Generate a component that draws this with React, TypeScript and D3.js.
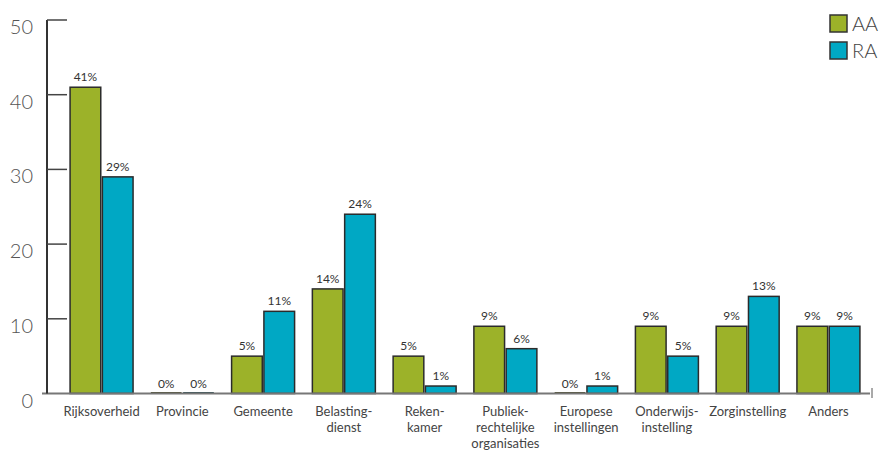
import React from "react";
import * as d3 from "d3";

const categories: string[][] = [
  ["Rijksoverheid"],
  ["Provincie"],
  ["Gemeente"],
  ["Belasting-", "dienst"],
  ["Reken-", "kamer"],
  ["Publiek-", "rechtelijke", "organisaties"],
  ["Europese", "instellingen"],
  ["Onderwijs-", "instelling"],
  ["Zorginstelling"],
  ["Anders"],
];
const seriesNames = ["AA", "RA"];
const aaValues = [41, 0, 5, 14, 5, 9, 0, 9, 9, 9];
const raValues = [29, 0, 11, 24, 1, 6, 1, 5, 13, 9];
const yTicks = [0, 10, 20, 30, 40, 50];
const colors = ["#9cb229", "#00a8c4"];

const W = 882;
const H = 450;
const FONT = "Lato, 'Open Sans', sans-serif";

export default function App() {
  const x0 = d3
    .scaleBand<number>()
    .domain(d3.range(categories.length))
    .range([62, 868])
    .paddingInner(0.22)
    .paddingOuter(0.1);
  const x1 = d3
    .scaleBand<number>()
    .domain([0, 1])
    .range([0, x0.bandwidth()])
    .paddingInner(0.05);
  const y = d3.scaleLinear().domain([0, 50]).range([393.5, 20]);
  const series = [aaValues, raValues];

  return (
    <svg
      width={W}
      height={H}
      style={{ position: "absolute", left: 0, top: 0, background: "#fff" }}
      fontFamily={FONT}
    >
      {/* bars */}
      {categories.map((_, i) =>
        series.map((vals, s) => {
          const v = vals[i];
          const bx = (x0(i) as number) + (x1(s) as number);
          const bw = x1.bandwidth();
          const top = y(v);
          return (
            <g key={`${i}-${s}`}>
              {v > 0 ? (
                <rect
                  x={bx}
                  y={top}
                  width={bw}
                  height={y(0) - top}
                  fill={colors[s]}
                  stroke="#2b2b2b"
                  strokeWidth={1.5}
                />
              ) : (
                <line
                  x1={bx}
                  x2={bx + bw}
                  y1={y(0) - 0.5}
                  y2={y(0) - 0.5}
                  stroke={s === 0 ? "#4a4a2a" : "#2a4a50"}
                  strokeWidth={2}
                />
              )}
              <text
                x={bx + bw / 2}
                y={top - 6}
                textAnchor="middle"
                fontSize={12}
                fill="#333"
              >
                {`${v}%`}
              </text>
            </g>
          );
        })
      )}

      {/* baseline */}
      <line x1={42} x2={870} y1={y(0)} y2={y(0)} stroke="#777" strokeWidth={2} />
      <line x1={872} x2={872} y1={388} y2={398} stroke="#555" strokeWidth={1} />

      {/* y axis */}
      <line x1={47} x2={47} y1={y(50)} y2={y(0)} stroke="#333" strokeWidth={2} />
      {yTicks.map((t) => (
        <g key={t}>
          {t > 0 && (
            <line x1={47} x2={67} y1={y(t)} y2={y(t)} stroke="#444" strokeWidth={1.5} />
          )}
          <text
            x={33}
            y={y(t) + 14}
            textAnchor="end"
            fontSize={20}
            fontWeight={300}
            fill="#555"
          >
            {t}
          </text>
        </g>
      ))}

      {/* category labels */}
      {categories.map((lines, i) => (
        <text
          key={i}
          x={(x0(i) as number) + x0.bandwidth() / 2}
          y={416}
          textAnchor="middle"
          fontSize={13}
          fill="#444"
        >
          {lines.map((l, k) => (
            <tspan key={k} x={(x0(i) as number) + x0.bandwidth() / 2} dy={k === 0 ? 0 : 16}>
              {l}
            </tspan>
          ))}
        </text>
      ))}

      {/* legend */}
      {seriesNames.map((n, s) => (
        <g key={n} transform={`translate(830, ${15 + s * 27})`}>
          <rect x={0} y={0} width={17} height={17} fill={colors[s]} stroke="#333" strokeWidth={1.5} />
          <text x={22} y={16} fontSize={20} fontWeight={300} fill="#444">
            {n}
          </text>
        </g>
      ))}
    </svg>
  );
}
